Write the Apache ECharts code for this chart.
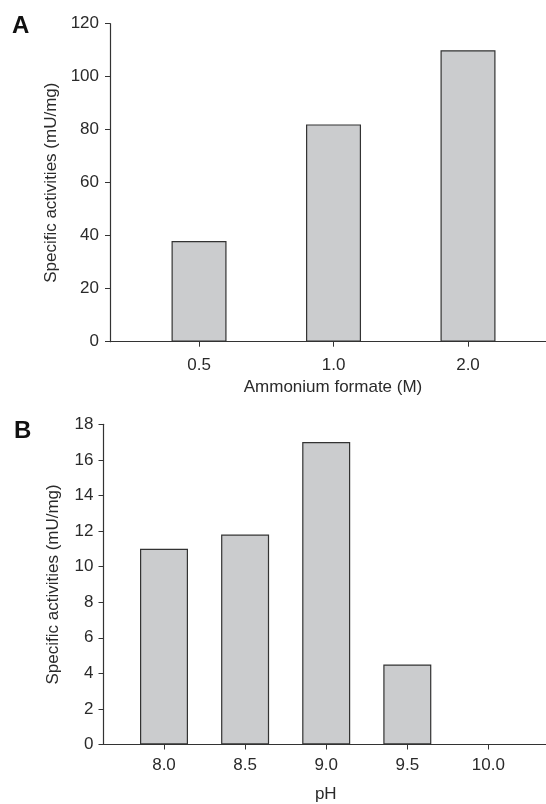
<!DOCTYPE html>
<html>
<head>
<meta charset="utf-8">
<script src="https://cdn.jsdelivr.net/npm/echarts@6/dist/echarts.min.js"></script>
<style>
html,body{margin:0;padding:0;background:#fff;}
#chart{width:546px;height:804px;}
</style>
</head>
<body>
<div id="chart"></div>
<script>
// Panel A
const catsA = ['0.5', '1.0', '2.0'];
const valuesA = [38, 82, 110];
const yTicksA = [0, 20, 40, 60, 80, 100, 120];
// Panel B
const catsB = ['8.0', '8.5', '9.0', '9.5', '10.0'];
const valuesB = [11, 11.8, 17, 4.5, 0];
const yTicksB = [0, 2, 4, 6, 8, 10, 12, 14, 16, 18];

const FONT = '"Liberation Sans", Arial, Helvetica, sans-serif';
const AX = '#333333';
const TXT = '#2a2a2a';
const FS = 17;

const chart = echarts.init(document.getElementById('chart'), null, {renderer: 'canvas'});

function idx(arr) { return arr.map((_, i) => i); }

function xAxisCfg(gridIndex, cats, min, max, name, nameGap, labelMargin, namePad) {
  return {
    type: 'value', gridIndex, min, max,
    name, nameLocation: 'middle', nameGap,
    nameTextStyle: {fontFamily: FONT, fontSize: FS, color: TXT, padding: namePad},
    axisLine: {show: true, onZero: false, lineStyle: {color: AX, width: 1.2}},
    axisTick: {show: true, length: 5, lineStyle: {color: AX, width: 1}, customValues: idx(cats)},
    axisLabel: {
      fontFamily: FONT, fontSize: FS, color: TXT, margin: labelMargin,
      customValues: idx(cats),
      formatter: v => cats[Math.round(v)] ?? ''
    },
    splitLine: {show: false}
  };
}

function yAxisCfg(gridIndex, ticks, name, nameGap, labelMargin) {
  return {
    type: 'value', gridIndex,
    min: ticks[0], max: ticks[ticks.length - 1], interval: ticks[1] - ticks[0],
    name, nameLocation: 'middle', nameGap, nameRotate: 90,
    nameTextStyle: {fontFamily: FONT, fontSize: FS, color: TXT},
    axisLine: {show: true, onZero: false, lineStyle: {color: AX, width: 1.2}},
    axisTick: {show: true, length: 5, lineStyle: {color: AX, width: 1}},
    axisLabel: {fontFamily: FONT, fontSize: FS, color: TXT, margin: labelMargin},
    splitLine: {show: false}
  };
}

const barStyle = {color: '#cbccce', borderColor: '#333333', borderWidth: 1.2};

const option = {
  backgroundColor: '#ffffff',
  animation: false,
  grid: [
    {left: 110, top: 23.7, right: 0, bottom: 462.3, containLabel: false, outerBoundsMode: 'none'},
    {left: 103.5, top: 424.3, right: 0, bottom: 59.5, containLabel: false, outerBoundsMode: 'none'}
  ],
  xAxis: [
    xAxisCfg(0, catsA, -0.662, 2.58, 'Ammonium formate (M)', 37, 15, [0, 0, 0, 10]),
    xAxisCfg(1, catsB, -0.746, 4.71, 'pH', 41, 12, [0, 0, 0, 2])
  ],
  yAxis: [
    yAxisCfg(0, yTicksA, 'Specific activities (mU/mg)', 50, 11),
    yAxisCfg(1, yTicksB, 'Specific activities (mU/mg)', 42, 10)
  ],
  series: [
    {
      type: 'bar', xAxisIndex: 0, yAxisIndex: 0, barWidth: 55,
      data: valuesA.map((v, i) => [i, v]),
      itemStyle: barStyle, silent: true
    },
    {
      type: 'bar', xAxisIndex: 1, yAxisIndex: 1, barWidth: 48,
      data: valuesB.map((v, i) => [i, v]),
      itemStyle: barStyle, silent: true
    }
  ],
  graphic: [
    {type: 'text', left: 12, top: 14, style: {text: 'A', font: 'bold 24px ' + FONT, fill: '#111'}},
    {type: 'text', left: 14, top: 419, style: {text: 'B', font: 'bold 24px ' + FONT, fill: '#111'}}
  ]
};

chart.setOption(option);
</script>
</body>
</html>
